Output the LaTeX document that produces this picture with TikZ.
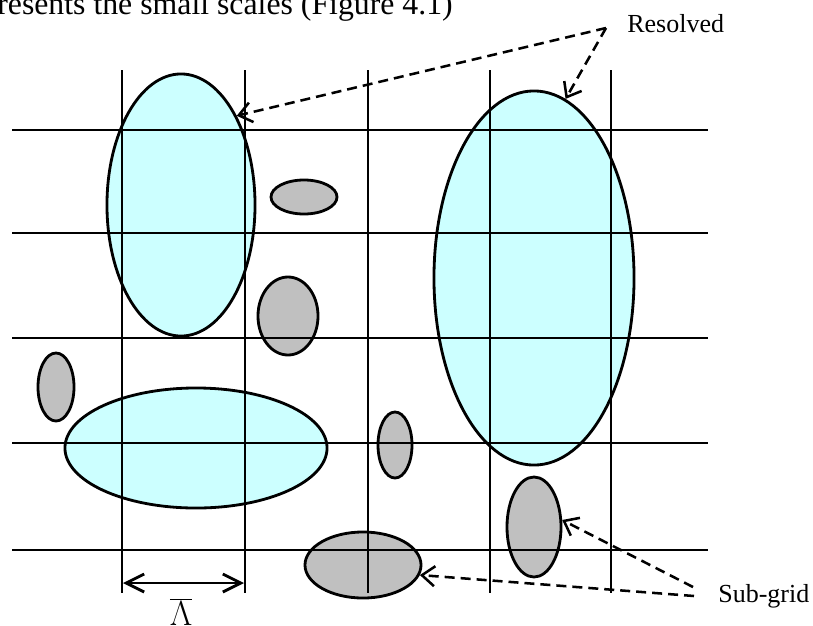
\documentclass[tikz,border=0pt]{standalone}
\usepackage{fontspec}
\setmainfont{Liberation Serif}
\usepackage{xcolor}
\usetikzlibrary{arrows.meta, positioning, shapes.geometric}
\definecolor{resfill}{HTML}{CCFFFF}
\definecolor{subfill}{HTML}{C0C0C0}

\begin{document}
\begin{tikzpicture}[
        x=0.025cm, y=-0.025cm,
        gridline/.style={line width=2pt},
        blob/.style 2 args={draw, ellipse, line width=2pt, inner sep=0pt,
            minimum width=#1*0.05cm, minimum height=#2*0.05cm},
        pointer/.style={line width=1.8pt, dash pattern=on 0.25cm off 0.15cm,
            -{Straight Barb[length=0.32cm,width=0.5cm]}},
        every node/.style={font=\fontsize{18.5}{22}\selectfont, inner sep=0pt}
    ]
        \useasboundingbox (0,0) rectangle (813,625);
        \clip (0,0) rectangle (813,625);

        % resolved eddies
        \foreach \n/\cx/\cy/\rx/\ry in {resA/181/205/74/131, resB/196/448/131/60, resC/534/278/100/187} {
            \node[blob={\rx}{\ry}, fill=resfill] (\n) at (\cx,\cy) {};
        }
        % sub-grid eddies
        \foreach \n/\cx/\cy/\rx/\ry in {subA/304/197/33/17, subB/288/316/30/39, subC/56/387/18/34,
                                        subD/395/445/17/33, subE/534/527/27/50, subF/363/565/58/33} {
            \node[blob={\rx}{\ry}, fill=subfill] (\n) at (\cx,\cy) {};
        }

        % grid
        \foreach \x in {122, 245, 368, 490, 611} {
            \draw[gridline] (\x,70) -- (\x,593);
        }
        \foreach \y in {130, 233, 338, 443, 550} {
            \draw[gridline] (12,\y) -- (708,\y);
        }

        \node[font=\fontsize{22.6}{26}\selectfont, anchor=base east] (caption) at (453,14)
            {resents the small scales (Figure 4.1)};

        \node[anchor=base west] (reslabel) at (627,32) {Resolved};
        \node[anchor=base west] (sublabel) at (718,602) {Sub-grid};

        \coordinate (rsrc) at (606,28);
        \coordinate (ssrcA) at (693,587);
        \coordinate (ssrcB) at (694,596);
        \draw[pointer] (rsrc) -- (resA.58);
        \draw[pointer] (rsrc) -- (resC.80);
        \draw[pointer] (ssrcA) -- (subE.14);
        \draw[pointer] (ssrcB) -- (subF.350);

        % filter width
        \coordinate (lamL) at (123,583);
        \coordinate (lamR) at (244,583);
        \draw[line width=2pt, {Straight Barb[length=0.45cm,width=0.45cm]}-{Straight Barb[length=0.45cm,width=0.45cm]}]
            (lamL) -- (lamR);
        \node[anchor=north, font=\fontsize{28}{32}\selectfont] (lam) at (181,598)
            {$\overline{\Lambda}$};
    \end{tikzpicture}
\end{document}
